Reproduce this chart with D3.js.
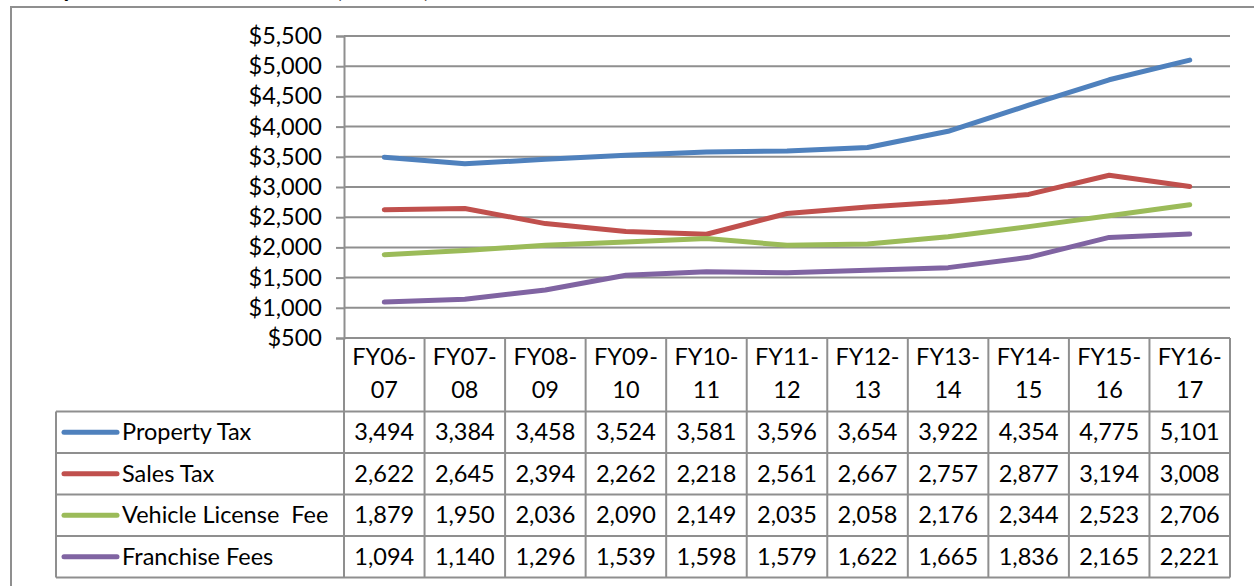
<!DOCTYPE html>
<html>
<head>
<meta charset="utf-8">
<script src="https://cdn.jsdelivr.net/npm/d3@7/dist/d3.min.js"></script>
<style>
  html, body { margin: 0; padding: 0; background: #fff; }
  svg { display: block; font-family: Lato, "Open Sans", sans-serif; }
</style>
</head>
<body>
<svg id="chart" width="1254" height="586"></svg>
<script>
// Fiscal years (two-line column headers)
const categories = ["FY06-07","FY07-08","FY08-09","FY09-10","FY10-11","FY11-12","FY12-13","FY13-14","FY14-15","FY15-16","FY16-17"];

// Revenue series (thousands of dollars)
const propertyTax = [3494, 3384, 3458, 3524, 3581, 3596, 3654, 3922, 4354, 4775, 5101];
const salesTax    = [2622, 2645, 2394, 2262, 2218, 2561, 2667, 2757, 2877, 3194, 3008];
const vehicleFee  = [1879, 1950, 2036, 2090, 2149, 2035, 2058, 2176, 2344, 2523, 2706];
const franchise   = [1094, 1140, 1296, 1539, 1598, 1579, 1622, 1665, 1836, 2165, 2221];

const seriesNames = ["Property Tax", "Sales Tax", "Vehicle License  Fee", "Franchise Fees"];
const seriesColors = ["#4F81BD", "#C0504D", "#9BBB59", "#8064A2"];
const yTicks = [500, 1000, 1500, 2000, 2500, 3000, 3500, 4000, 4500, 5000, 5500];

const series = [propertyTax, salesTax, vehicleFee, franchise].map((values, i) => ({
  name: seriesNames[i], color: seriesColors[i], values
}));

const svg = d3.select("#chart");
const gridColor = "#8f8f8f";

// Geometry
const plotLeft = 344, plotRight = 1230, plotTop = 36, plotBottom = 338;
const headerBottom = 411.5, rowH = 41.5;
const legendLeft = 56;
const fontSize = 23.5;

// Outer chart frame
svg.append("rect")
  .attr("x", 11).attr("y", 7).attr("width", 1260).attr("height", 600)
  .attr("fill", "none").attr("stroke", gridColor).attr("stroke-width", 2);

// Title (sits above the frame, mostly off the top edge)
svg.append("text")
  .attr("x", 34).attr("y", -3)
  .attr("font-size", 25).attr("font-weight", "bold").attr("fill", "#000")
  .attr("textLength", 396).attr("lengthAdjust", "spacingAndGlyphs")
  .text("Key General Fund Revenues (millions)");

const x = d3.scaleBand().domain(categories).range([plotLeft, plotRight]);
const y = d3.scaleLinear().domain([500, 5500]).range([plotBottom, plotTop]);

// Gridlines
svg.append("g")
  .selectAll("line").data(yTicks).join("line")
  .attr("x1", plotLeft).attr("x2", plotRight)
  .attr("y1", d => y(d)).attr("y2", d => y(d))
  .attr("stroke", gridColor).attr("stroke-width", 2);

// Y axis
const yAxis = svg.append("g")
  .attr("transform", `translate(${plotLeft},0)`)
  .call(d3.axisLeft(y).tickValues(yTicks).tickFormat(d3.format("$,")).tickSize(8).tickPadding(14));
yAxis.select(".domain").attr("stroke", gridColor).attr("stroke-width", 2);
yAxis.selectAll(".tick line").attr("stroke", gridColor).attr("stroke-width", 2);
yAxis.selectAll(".tick text")
  .attr("font-family", "Lato, sans-serif").attr("font-size", fontSize).attr("fill", "#000");

// Data table grid
const tableBottom = headerBottom + rowH * series.length;
const grid = svg.append("g").attr("stroke", gridColor).attr("stroke-width", 2);
// column separators (category ticks run down through the table)
const colEdges = categories.map(c => x(c)).concat([plotRight]);
grid.selectAll("line.col").data(colEdges).join("line")
  .attr("class", "col")
  .attr("x1", d => d).attr("x2", d => d)
  .attr("y1", plotBottom).attr("y2", tableBottom);
// left edge of legend column
grid.append("line")
  .attr("x1", legendLeft).attr("x2", legendLeft)
  .attr("y1", headerBottom).attr("y2", tableBottom);
// row separators
const rowEdges = d3.range(series.length + 1).map(i => headerBottom + i * rowH);
grid.selectAll("line.row").data(rowEdges).join("line")
  .attr("class", "row")
  .attr("x1", legendLeft).attr("x2", plotRight)
  .attr("y1", d => d).attr("y2", d => d);

// Category headers
const header = svg.append("g").attr("font-size", fontSize).attr("fill", "#000").attr("text-anchor", "middle");
categories.forEach(c => {
  const [a, b] = c.split("-");
  const cx = x(c) + x.bandwidth() / 2;
  header.append("text").attr("x", cx).attr("y", 357).attr("dy", "0.35em").text(a + "-");
  header.append("text").attr("x", cx).attr("y", 390).attr("dy", "0.35em").text(b);
});

// Table values and legend keys
const fmt = d3.format(",");
series.forEach((s, i) => {
  const cy = headerBottom + i * rowH + rowH / 2;
  svg.append("line")
    .attr("x1", 64).attr("x2", 117).attr("y1", cy).attr("y2", cy)
    .attr("stroke", s.color).attr("stroke-width", 5).attr("stroke-linecap", "round");
  svg.append("text")
    .attr("x", 122).attr("y", cy).attr("dy", "0.35em")
    .attr("font-size", fontSize).attr("fill", "#000")
    .style("white-space", "pre").attr("xml:space", "preserve")
    .text(s.name);
  svg.append("g").selectAll("text").data(s.values).join("text")
    .attr("x", (d, j) => x(categories[j]) + x.bandwidth() / 2)
    .attr("y", cy).attr("dy", "0.35em")
    .attr("text-anchor", "middle").attr("font-size", fontSize).attr("fill", "#000")
    .text(d => fmt(d));
});

// Series lines
const line = d3.line()
  .x((d, j) => x(categories[j]) + x.bandwidth() / 2)
  .y(d => y(d));
svg.append("g").selectAll("path").data(series).join("path")
  .attr("d", s => line(s.values))
  .attr("fill", "none")
  .attr("stroke", s => s.color)
  .attr("stroke-width", 5)
  .attr("stroke-linecap", "round")
  .attr("stroke-linejoin", "round");
</script>
</body>
</html>
